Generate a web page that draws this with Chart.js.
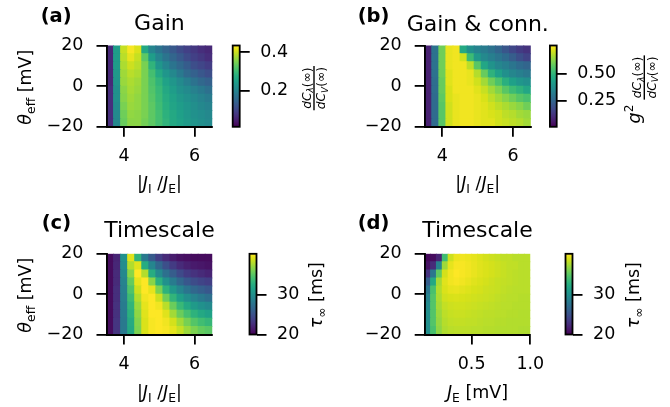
<!DOCTYPE html>
<html><head><meta charset="utf-8">
<script src="https://cdn.jsdelivr.net/npm/chart.js@4/dist/chart.umd.min.js"></script>
<style>
html,body{margin:0;padding:0;background:#fff;}
#wrap{position:relative;width:670px;height:407px;background:#fff;overflow:hidden;}
#wrap canvas{position:absolute;left:0;top:0;}
</style></head><body><div id="wrap"></div>
<script>
// ---------------- data ----------------
const thetaRows = [18, 14, 10, 6, 2, -2, -6, -10, -14, -18];          // theta_eff row centres [mV]
const ratioCols = [3.6, 3.8, 4.0, 4.2, 4.4, 4.6, 4.8, 5.0, 5.2, 5.4, 5.6, 5.8, 6.0, 6.2, 6.4]; // |J_I/J_E| column centres
const jeCols = [0.125, 0.175, 0.225, 0.275, 0.325, 0.375, 0.425, 0.475, 0.525, 0.575, 0.625, 0.675, 0.725, 0.775, 0.825, 0.875, 0.925, 0.975]; // J_E [mV]
const thetaTicks = [-20, 0, 20];
const ratioTicks = [4, 6];
const jeTicks = [0.5, 1.0];
const gainTicks = [0.2, 0.4];
const gainConnTicks = [0.25, 0.5];
const tauTicks = [20, 30];
const gainRange = [0.015, 0.434];
const gainConnRange = [0.013, 0.755];
const tauRange = [20, 40.4];

// (a) gain dC_lambda/dC_V
const gainZ = [
 [0.061,0.245,0.397,0.430,0.410,0.266,0.204,0.176,0.151,0.131,0.110,0.094,0.082,0.069,0.061],
 [0.061,0.245,0.389,0.418,0.397,0.328,0.245,0.204,0.176,0.151,0.131,0.110,0.094,0.082,0.069],
 [0.061,0.245,0.381,0.401,0.389,0.348,0.287,0.233,0.204,0.176,0.155,0.135,0.114,0.102,0.090],
 [0.061,0.237,0.373,0.389,0.381,0.348,0.307,0.266,0.233,0.209,0.184,0.159,0.143,0.127,0.114],
 [0.061,0.233,0.369,0.381,0.373,0.348,0.315,0.287,0.254,0.233,0.213,0.192,0.172,0.155,0.143],
 [0.069,0.225,0.360,0.377,0.369,0.348,0.319,0.295,0.266,0.245,0.225,0.213,0.196,0.184,0.168],
 [0.069,0.225,0.356,0.373,0.364,0.348,0.323,0.299,0.274,0.254,0.237,0.225,0.213,0.200,0.188],
 [0.069,0.217,0.348,0.369,0.364,0.348,0.328,0.303,0.278,0.258,0.245,0.233,0.221,0.209,0.200],
 [0.069,0.213,0.340,0.364,0.360,0.348,0.328,0.307,0.282,0.266,0.250,0.237,0.225,0.217,0.209],
 [0.069,0.209,0.336,0.360,0.360,0.344,0.328,0.307,0.287,0.266,0.254,0.241,0.229,0.221,0.213]
];
// (b) g^2 * gain
const gainConnZ = [
 [0.08,0.29,0.59,0.73,0.74,0.46,0.38,0.34,0.32,0.29,0.25,0.21,0.17,0.14,0.12],
 [0.08,0.29,0.59,0.73,0.74,0.70,0.52,0.41,0.36,0.33,0.30,0.27,0.23,0.19,0.16],
 [0.08,0.29,0.59,0.73,0.74,0.74,0.68,0.56,0.45,0.39,0.35,0.33,0.30,0.27,0.25],
 [0.08,0.29,0.59,0.72,0.74,0.74,0.73,0.67,0.58,0.49,0.43,0.38,0.35,0.33,0.31],
 [0.08,0.28,0.58,0.72,0.74,0.74,0.73,0.70,0.65,0.59,0.54,0.48,0.43,0.40,0.38],
 [0.08,0.28,0.58,0.71,0.74,0.74,0.74,0.72,0.69,0.65,0.61,0.56,0.52,0.49,0.45],
 [0.08,0.27,0.57,0.71,0.73,0.74,0.74,0.73,0.71,0.68,0.65,0.62,0.59,0.56,0.54],
 [0.08,0.27,0.56,0.70,0.73,0.74,0.74,0.73,0.72,0.70,0.68,0.66,0.64,0.62,0.59],
 [0.08,0.27,0.56,0.70,0.73,0.74,0.74,0.73,0.72,0.71,0.70,0.68,0.67,0.65,0.64],
 [0.08,0.27,0.56,0.70,0.73,0.74,0.74,0.73,0.72,0.72,0.70,0.69,0.68,0.67,0.65]
];
// (c) tau_inf vs |J_I/J_E|
const tauRatioZ = [
 [20.6,22.0,30.2,39.4,33.3,28.2,25.7,23.7,22.4,21.6,21.0,20.8,20.6,20.6,20.6],
 [20.6,22.2,29.8,38.0,39.4,32.6,29.2,26.7,24.9,23.5,22.4,21.8,21.4,21.2,21.0],
 [20.6,22.4,29.4,36.7,40.4,38.0,32.6,29.6,27.5,25.9,24.5,23.5,22.9,22.4,22.0],
 [20.6,22.4,29.0,35.5,39.6,40.4,36.7,32.9,30.2,28.4,26.7,25.5,24.7,24.1,23.7],
 [20.6,22.7,28.8,34.7,38.8,40.4,39.6,36.3,33.1,30.8,29.2,27.8,26.7,26.1,25.5],
 [20.6,22.7,28.6,33.9,38.0,40.0,40.4,38.8,35.9,33.3,31.4,30.0,29.0,28.2,27.5],
 [20.6,22.9,28.4,33.3,37.3,39.6,40.4,40.0,38.2,35.7,33.7,32.2,31.0,30.2,29.6],
 [20.6,22.9,28.4,32.9,36.9,39.4,40.4,40.4,39.4,37.5,35.7,34.3,33.1,32.2,31.6],
 [20.6,23.1,28.2,32.4,36.5,39.2,40.2,40.4,40.0,39.0,37.5,36.1,34.9,34.1,33.5],
 [20.6,23.1,28.2,32.2,36.3,39.2,40.2,40.4,40.2,39.6,38.6,37.3,36.3,35.5,35.1]
];
// (d) tau_inf vs J_E
const tauJeZ = [
 [20.4,20.6,22.0,34.0,38.8,39.8,40.0,39.8,39.6,39.3,39.0,38.8,38.6,38.4,38.4,38.2,38.2,38.2],
 [21.0,22.4,29.0,37.4,39.6,40.2,40.2,40.0,39.7,39.4,39.2,39.0,38.8,38.6,38.4,38.4,38.2,38.2],
 [23.0,28.0,35.4,39.0,40.0,40.4,40.2,40.0,39.7,39.4,39.2,39.0,38.8,38.6,38.4,38.3,38.2,38.2],
 [26.0,32.2,37.6,39.4,40.0,40.2,40.0,39.7,39.4,39.2,39.0,38.8,38.6,38.5,38.4,38.3,38.2,38.2],
 [28.0,34.4,38.0,39.2,39.6,39.7,39.5,39.3,39.1,39.0,38.8,38.7,38.6,38.4,38.3,38.2,38.2,38.2],
 [29.0,34.8,37.8,38.9,39.1,39.2,39.1,39.0,38.9,38.8,38.7,38.6,38.4,38.3,38.2,38.2,38.1,38.1],
 [29.6,34.8,37.6,38.5,38.8,38.9,38.9,38.8,38.7,38.6,38.5,38.4,38.3,38.2,38.2,38.1,38.1,38.1],
 [30.0,34.8,37.3,38.3,38.6,38.7,38.7,38.6,38.5,38.4,38.3,38.3,38.2,38.2,38.1,38.1,38.0,38.0],
 [30.0,34.8,37.1,38.1,38.4,38.5,38.5,38.4,38.4,38.3,38.2,38.2,38.1,38.1,38.0,38.0,38.0,38.0],
 [30.0,34.4,36.9,37.9,38.2,38.3,38.3,38.3,38.2,38.2,38.1,38.1,38.0,38.0,38.0,38.0,37.9,37.9]
];

// ---------------- colour map ----------------
const VIR = ['#440154','#48186a','#472d7b','#424086','#3b528b','#33638d','#2c728e','#26828e','#21918c','#1fa088','#28ae80','#3fbc73','#5ec962','#84d44b','#addc30','#d8e219','#fde725'];
const VIRRGB = VIR.map(h => [parseInt(h.slice(1,3),16), parseInt(h.slice(3,5),16), parseInt(h.slice(5,7),16)]);
function viridis(t) {
  t = Math.max(0, Math.min(1, t));
  const s = t * 16, i = Math.min(15, Math.floor(s)), f = s - i;
  const a = VIRRGB[i], b = VIRRGB[i + 1];
  return 'rgb(' + [0,1,2].map(k => Math.round(a[k] + (b[k] - a[k]) * f)).join(',') + ')';
}

// ---------------- text helpers ----------------
const FAM = "'DejaVu Sans'";
const F = "17.5px " + FAM, FI = "italic 17.5px " + FAM, FS = "12.3px " + FAM, FSI = "italic 12.3px " + FAM;
const FF = "12.3px " + FAM, FFI = "italic 12.3px " + FAM, FFS = "8.8px " + FAM, FFSI = "italic 8.8px " + FAM;
function widthOf(ctx, parts) {
  let w = 0;
  parts.forEach(p => { ctx.font = p.f; p.w = ctx.measureText(p.t).width; w += p.w; });
  return w;
}
function drawParts(ctx, parts, x0, y0) {
  let x = x0;
  parts.forEach(p => { ctx.font = p.f; ctx.fillText(p.t, x, y0 + (p.dy || 0)); x += p.w; });
}
function drawRich(ctx, parts, x, y, rot, align) {
  ctx.save();
  ctx.translate(x, y); ctx.rotate(rot || 0);
  ctx.fillStyle = '#000'; ctx.textBaseline = 'alphabetic'; ctx.textAlign = 'left';
  const w = widthOf(ctx, parts);
  drawParts(ctx, parts, align === 'center' ? -w / 2 : 0, 0);
  ctx.restore();
}
function drawFrac(ctx, num, den, x, y, rot) {
  ctx.save();
  ctx.translate(x, y); ctx.rotate(rot || 0);
  ctx.fillStyle = '#000'; ctx.textBaseline = 'alphabetic'; ctx.textAlign = 'left';
  const wn = widthOf(ctx, num), wd = widthOf(ctx, den), w = Math.max(wn, wd) + 2;
  drawParts(ctx, num, -wn / 2, -3.2);
  drawParts(ctx, den, -wd / 2, 11.2);
  ctx.fillRect(-w / 2, -0.7, w, 1.4);
  ctx.restore();
}
const ROT = -Math.PI / 2;
const thetaLabel = () => [{t:'θ', f:FI}, {t:'eff', f:FS, dy:4}, {t:' [mV]', f:F}];
const ratioLabel = () => [{t:'|', f:F}, {t:'J', f:FI}, {t:'I', f:FS, dy:4}, {t:' /', f:F}, {t:'J', f:FI}, {t:'E', f:FS, dy:4}, {t:'|', f:F}];
const jeLabel = () => [{t:'J', f:FI}, {t:'E', f:FS, dy:4}, {t:' [mV]', f:F}];
const tauLabel = () => [{t:'τ', f:FI}, {t:'∞', f:FS, dy:4}, {t:' [ms]', f:F}];
const fracNum = () => [{t:'dC', f:FFI}, {t:'λ', f:FFSI, dy:2.5}, {t:'(∞)', f:FF}];
const fracDen = () => [{t:'dC', f:FFI}, {t:'V', f:FFSI, dy:2.5}, {t:'(∞)', f:FF}];

Chart.defaults.font.family = FAM;
Chart.defaults.font.size = 17.5;
Chart.defaults.color = '#000';

const wrap = document.getElementById('wrap');
function newCanvas() {
  const c = document.createElement('canvas');
  c.width = 670; c.height = 407;
  c.style.width = '670px'; c.style.height = '407px';
  wrap.appendChild(c);
  return c;
}
const minusFmt = v => (v < 0 ? '\u2212' + Math.abs(v) : String(v));

// ---------------- heat maps ----------------
function heatChart(p) {
  const pts = [], cols = [];
  const dy = Math.abs(thetaRows[0] - thetaRows[1]);
  p.z.forEach((row, r) => row.forEach((v, c) => {
    if (v == null) return;
    pts.push({x: p.xs[c], y: [thetaRows[r] - dy / 2, thetaRows[r] + dy / 2]});
    cols.push(viridis((v - p.range[0]) / (p.range[1] - p.range[0])));
  }));
  const A = p.area;
  new Chart(newCanvas(), {
    type: 'bar',
    data: {datasets: [{data: pts, backgroundColor: cols, borderWidth: 0, barPercentage: 1, categoryPercentage: 1,
      inflateAmount: 0.5, base: -1000}]},
    options: {
      responsive: false, animation: false, devicePixelRatio: 1, events: [],
      layout: {padding: {left: 0, top: A.top, right: 670 - A.right, bottom: 0}},
      plugins: {legend: {display: false}, tooltip: {enabled: false}, title: {display: false}},
      scales: {
        x: {type: 'linear', min: p.xmin, max: p.xmax, offset: false,
          afterBuildTicks: s => { s.ticks = p.xticks.map(v => ({value: v})); },
          afterFit: s => { s.height = 407 - A.bottom; s.paddingLeft = 0; s.paddingRight = 0; },
          grid: {display: true, drawOnChartArea: false, drawTicks: true, tickLength: 10, color: '#000', lineWidth: 1.8, offset: false},
          border: {display: true, color: '#000', width: 1.9, z: 1},
          ticks: {padding: 9, autoSkip: false, maxRotation: 0, color: '#000', font: {size: 17.5}, callback: p.xfmt}},
        y: {type: 'linear', min: -20, max: 20,
          afterBuildTicks: s => { s.ticks = thetaTicks.map(v => ({value: v})); },
          afterFit: s => { s.width = A.left; s.paddingTop = 0; s.paddingBottom = 0; },
          grid: {display: true, drawOnChartArea: false, drawTicks: true, tickLength: 10, color: '#000', lineWidth: 1.8},
          border: {display: true, color: '#000', width: 1.9, z: 1},
          ticks: {padding: 13, autoSkip: false, color: '#000', font: {size: 17.5}, callback: v => minusFmt(v)}}
      }
    },
    plugins: [{
      id: 'decor',
      afterDraw(chart) {
        const ctx = chart.ctx, ca = chart.chartArea, cx = (ca.left + ca.right) / 2;
        drawRich(ctx, [{t: p.letter, f: "bold 19.5px " + FAM}], p.letterX, p.letterY, 0, 'left');
        drawRich(ctx, [{t: p.title, f: "22px " + FAM}], cx, p.titleY, 0, 'center');
        if (p.ylabel) drawRich(ctx, thetaLabel(), p.ylabelX, (ca.top + ca.bottom) / 2 + 1, ROT, 'center');
        drawRich(ctx, p.xlabel(), cx, p.xlabelY, 0, 'center');
      }
    }]
  });
}

// ---------------- colour bars ----------------
function cbarChart(c) {
  const A = c.area;
  new Chart(newCanvas(), {
    type: 'scatter',
    data: {datasets: []},
    options: {
      responsive: false, animation: false, devicePixelRatio: 1, events: [],
      layout: {padding: {left: A.left, top: A.top, right: 670 - 60 - A.right, bottom: 407 - A.bottom}},
      plugins: {legend: {display: false}, tooltip: {enabled: false}},
      scales: {
        x: {type: 'linear', display: false, min: 0, max: 1},
        y: {type: 'linear', position: 'right', min: c.range[0], max: c.range[1],
          afterBuildTicks: s => { s.ticks = c.ticks.map(v => ({value: v})); },
          afterFit: s => { s.width = 60; s.paddingTop = 0; s.paddingBottom = 0; },
          grid: {display: true, drawOnChartArea: false, drawTicks: true, tickLength: 10, color: '#000', lineWidth: 1.8},
          border: {display: false},
          ticks: {padding: 10.5, autoSkip: false, color: '#000', font: {size: 17.5}, callback: c.fmt}}
      }
    },
    plugins: [{
      id: 'cbar',
      afterDraw(chart) {
        const ctx = chart.ctx, ca = chart.chartArea;
        const g = ctx.createLinearGradient(0, ca.bottom, 0, ca.top);
        VIR.forEach((h, i) => g.addColorStop(i / 16, h));
        ctx.save();
        ctx.fillStyle = g;
        ctx.fillRect(ca.left, ca.top, ca.right - ca.left, ca.bottom - ca.top);
        ctx.strokeStyle = '#000'; ctx.lineWidth = 1.8;
        ctx.strokeRect(ca.left, ca.top, ca.right - ca.left, ca.bottom - ca.top);
        ctx.restore();
        c.label(ctx, ca);
      }
    }]
  });
}

const topArea = {top: 45.5, bottom: 126.8}, botArea = {top: 253.8, bottom: 334.5};
heatChart({z: gainZ, xs: ratioCols, xmin: 3.5, xmax: 6.5, xticks: ratioTicks, xfmt: v => String(v), range: gainRange,
  area: {left: 106.5, right: 212.3, ...topArea}, letter: '(a)', letterX: 40.7, letterY: 22, title: 'Gain', titleY: 30,
  ylabel: true, ylabelX: 31, xlabel: ratioLabel, xlabelY: 189});
heatChart({z: gainConnZ, xs: ratioCols, xmin: 3.5, xmax: 6.5, xticks: ratioTicks, xfmt: v => String(v), range: gainConnRange,
  area: {left: 424.7, right: 530.8, ...topArea}, letter: '(b)', letterX: 357.7, letterY: 21.5, title: 'Gain & conn.', titleY: 30.5,
  ylabel: false, xlabel: ratioLabel, xlabelY: 189});
heatChart({z: tauRatioZ, xs: ratioCols, xmin: 3.5, xmax: 6.5, xticks: ratioTicks, xfmt: v => String(v), range: tauRange,
  area: {left: 106.5, right: 212.3, ...botArea}, letter: '(c)', letterX: 41.7, letterY: 229, title: 'Timescale', titleY: 236.5,
  ylabel: true, ylabelX: 31, xlabel: ratioLabel, xlabelY: 397.5});
heatChart({z: tauJeZ, xs: jeCols, xmin: 0.1, xmax: 1.0, xticks: jeTicks, xfmt: v => Number(v).toFixed(1), range: tauRange,
  area: {left: 424.7, right: 530.3, ...botArea}, letter: '(d)', letterX: 357.7, letterY: 229, title: 'Timescale', titleY: 236.5,
  ylabel: false, xlabel: jeLabel, xlabelY: 397.5});

cbarChart({range: gainRange, ticks: gainTicks, fmt: v => Number(v).toFixed(1), area: {left: 232.7, right: 239.7, ...topArea},
  label: (ctx, ca) => drawFrac(ctx, fracNum(), fracDen(), 314, (ca.top + ca.bottom) / 2 + 2, ROT)});
cbarChart({range: gainConnRange, ticks: gainConnTicks, fmt: v => Number(v).toFixed(2), area: {left: 549.9, right: 556.7, ...topArea},
  label: (ctx, ca) => {
    drawRich(ctx, [{t: 'g', f: FI}, {t: '2', f: FS, dy: -7.5}], 640, 114, ROT, 'center');
    drawFrac(ctx, fracNum(), fracDen(), 644.3, 77.5, ROT);
  }});
cbarChart({range: tauRange, ticks: tauTicks, fmt: v => String(v), area: {left: 249.5, right: 256.5, ...botArea},
  label: (ctx, ca) => drawRich(ctx, tauLabel(), 322, (ca.top + ca.bottom) / 2 + 1, ROT, 'center')});
cbarChart({range: tauRange, ticks: tauTicks, fmt: v => String(v), area: {left: 565.5, right: 572.5, ...botArea},
  label: (ctx, ca) => drawRich(ctx, tauLabel(), 638.5, (ca.top + ca.bottom) / 2 + 1, ROT, 'center')});
</script></body></html>
